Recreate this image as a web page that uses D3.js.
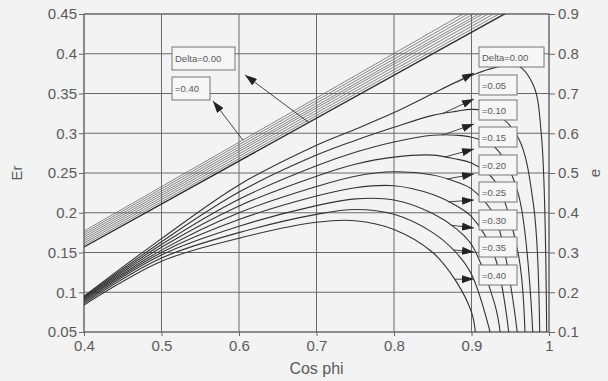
<!DOCTYPE html>
<html>
<head>
<meta charset="utf-8">
<script src="https://cdn.jsdelivr.net/npm/d3@7/dist/d3.min.js"></script>
<style>
  body { margin: 0; background: #f3f3f3; }
  svg text { font-family: "Liberation Sans", Arial, sans-serif; fill: #5a5a5a; }
</style>
</head>
<body>
<svg id="chart" width="608" height="381"></svg>
<script>
// ---- data ----
const deltaLabels = ['0.00', '0.05', '0.10', '0.15', '0.20', '0.25', '0.30', '0.35', '0.40'];

const xTicks = [0.4, 0.5, 0.6, 0.7, 0.8, 0.9, 1];
const erTicks = [0.05, 0.1, 0.15, 0.2, 0.25, 0.3, 0.35, 0.4, 0.45];
const eTicks = [0.1, 0.2, 0.3, 0.4, 0.5, 0.6, 0.7, 0.8, 0.9];

// Er lines (left axis): value at cos phi = 0.4 and at cos phi = 1.0 (clipped at 0.45)
const erCosPhi = [0.4, 1.0];
const erValues = [
  [0.157, 0.481],
  [0.1595, 0.485],
  [0.162, 0.489],
  [0.1645, 0.493],
  [0.167, 0.497],
  [0.1695, 0.500],
  [0.172, 0.504],
  [0.1745, 0.508],
  [0.177, 0.512]
];

// e curves (right axis): values on a shared cos phi grid, null once the curve has ended
const eCosPhi = [0.4, 0.5, 0.6, 0.7, 0.75, 0.8, 0.85, 0.88, 0.9, 0.93, 0.96, 0.98, 0.99];
const eValues = [
  [0.190, 0.335, 0.470, 0.570, 0.610, 0.652, 0.700, 0.728, 0.745, 0.765, 0.770, 0.720, 0.600],
  [0.188, 0.327, 0.452, 0.545, 0.582, 0.615, 0.645, 0.655, 0.660, 0.650, 0.590, 0.420, null],
  [0.186, 0.320, 0.434, 0.518, 0.552, 0.578, 0.595, 0.595, 0.590, 0.565, 0.450, null, null],
  [0.184, 0.313, 0.417, 0.492, 0.522, 0.540, 0.545, 0.535, 0.525, 0.480, 0.300, null, null],
  [0.182, 0.306, 0.400, 0.466, 0.492, 0.503, 0.495, 0.478, 0.460, 0.390, null, null, null],
  [0.179, 0.300, 0.383, 0.442, 0.463, 0.468, 0.446, 0.418, 0.390, 0.290, null, null, null],
  [0.176, 0.294, 0.366, 0.418, 0.435, 0.432, 0.398, 0.360, 0.320, 0.170, null, null, null],
  [0.172, 0.286, 0.350, 0.396, 0.408, 0.396, 0.350, 0.300, 0.245, null, null, null, null],
  [0.168, 0.278, 0.336, 0.376, 0.380, 0.358, 0.300, 0.228, 0.150, null, null, null, null]
];
// cos phi where each e curve reaches the bottom (e = 0.1)
const eEnd = [0.997, 0.988, 0.979, 0.969, 0.959, 0.948, 0.937, 0.924, 0.905];

// ---- layout ----
const svg = d3.select('#chart');
const margin = { top: 14, right: 59, bottom: 49, left: 84 };
const width = 608 - margin.left - margin.right;
const height = 381 - margin.top - margin.bottom;

const x = d3.scaleLinear().domain([0.4, 1]).range([0, width]);
const yL = d3.scaleLinear().domain([0.05, 0.45]).range([height, 0]);
const yR = d3.scaleLinear().domain([0.1, 0.9]).range([height, 0]);

const g = svg.append('g').attr('transform', `translate(${margin.left},${margin.top})`);

const defs = svg.append('defs');
defs.append('clipPath').attr('id', 'plot-clip')
  .append('rect').attr('width', width).attr('height', height);
defs.append('marker')
  .attr('id', 'arrow')
  .attr('viewBox', '0 0 12 8')
  .attr('refX', 12).attr('refY', 4)
  .attr('markerWidth', 12).attr('markerHeight', 8)
  .attr('markerUnits', 'userSpaceOnUse')
  .attr('orient', 'auto')
  .append('path').attr('d', 'M0,0 L12,4 L0,8 Z').attr('fill', '#222');

/* grid */
g.append('g').selectAll('line').data(xTicks).enter().append('line')
  .attr('x1', d => x(d)).attr('x2', d => x(d))
  .attr('y1', 0).attr('y2', height)
  .attr('stroke', '#6a6a6a').attr('stroke-width', 1);
g.append('g').selectAll('line').data(erTicks).enter().append('line')
  .attr('x1', 0).attr('x2', width)
  .attr('y1', d => yL(d)).attr('y2', d => yL(d))
  .attr('stroke', '#6a6a6a').attr('stroke-width', 1);

/* axes */
const axisStyle = sel => {
  sel.select('.domain').remove();
  sel.selectAll('line').attr('stroke', '#666');
  sel.selectAll('text').attr('font-size', 15).attr('fill', '#5a5a5a');
};
g.append('g').attr('transform', `translate(0,${height})`)
  .call(d3.axisBottom(x).tickValues(xTicks).tickSize(4).tickPadding(4).tickFormat(d3.format('')))
  .call(axisStyle);
g.append('g')
  .call(d3.axisLeft(yL).tickValues(erTicks).tickSize(5).tickPadding(2).tickFormat(d3.format('')))
  .call(axisStyle);
g.append('g').attr('transform', `translate(${width},0)`)
  .call(d3.axisRight(yR).tickValues(eTicks).tickSize(6).tickPadding(3).tickFormat(d3.format('')))
  .call(axisStyle);

g.append('rect').attr('width', width).attr('height', height)
  .attr('fill', 'none').attr('stroke', '#666').attr('stroke-width', 1);

/* axis titles */
svg.append('text').attr('x', margin.left + width / 2).attr('y', 374)
  .attr('text-anchor', 'middle').attr('font-size', 16).text('Cos phi');
svg.append('text').attr('transform', `translate(22,${margin.top + height / 2}) rotate(-90)`)
  .attr('text-anchor', 'middle').attr('font-size', 15).text('Er');
svg.append('text').attr('transform', `translate(600,${margin.top + height / 2}) rotate(-90)`)
  .attr('text-anchor', 'middle').attr('font-size', 15).text('e');

/* curves */
const plot = g.append('g').attr('clip-path', 'url(#plot-clip)');

const erPts = erValues.map(v => erCosPhi.map((c, i) => [c, v[i]]));
const erLine = d3.line().x(d => x(d[0])).y(d => yL(d[1]));
plot.append('g').selectAll('path')
  .data(erPts)
  .enter().append('path')
  .attr('d', erLine)
  .attr('fill', 'none')
  .attr('stroke', (d, i) => i === 0 ? '#2a2a2a' : '#6a6a6a')
  .attr('stroke-width', (d, i) => i === 0 ? 1.4 : 0.8);

const eSeries = eValues.map((row, k) => {
  const pts = [];
  row.forEach((v, i) => { if (v !== null) pts.push([eCosPhi[i], v]); });
  pts.push([eEnd[k], 0.1]);
  return pts;
});
const eLine = d3.line().x(d => x(d[0])).y(d => yR(d[1])).curve(d3.curveCatmullRom.alpha(0.5));
plot.append('g').selectAll('path')
  .data(eSeries)
  .enter().append('path')
  .attr('d', eLine)
  .attr('fill', 'none')
  .attr('stroke', '#333')
  .attr('stroke-width', 1.1);

/* value on a series at a given cos phi (linear between read points) */
function valueAt(pts, c) {
  for (let i = 0; i < pts.length - 1; i++) {
    if (c >= pts[i][0] && c <= pts[i + 1][0]) {
      const t = (c - pts[i][0]) / (pts[i + 1][0] - pts[i][0]);
      return pts[i][1] + t * (pts[i + 1][1] - pts[i][1]);
    }
  }
  return pts[pts.length - 1][1];
}

/* labels for Er lines */
const erBoxes = [
  { text: 'Delta=0.00', bx: 172, by: 47, bw: 63, bh: 23, tipX: 245, tipY: 75, c: 0.69, k: 0 },
  { text: '=0.40', bx: 172, by: 77, bw: 38, bh: 23, tipX: 213, tipY: 101, c: 0.605, k: 8 }
];
erBoxes.forEach(b => {
  svg.append('rect').attr('x', b.bx).attr('y', b.by).attr('width', b.bw).attr('height', b.bh)
    .attr('fill', '#f6f6f6').attr('stroke', '#777').attr('stroke-width', 1);
  svg.append('text').attr('x', b.bx + 3).attr('y', b.by + b.bh / 2 + 3.5)
    .attr('font-size', 9.5).attr('fill', '#333').text(b.text);
  svg.append('line')
    .attr('x1', margin.left + x(b.c)).attr('y1', margin.top + yL(valueAt(erPts[b.k], b.c)))
    .attr('x2', b.tipX).attr('y2', b.tipY)
    .attr('stroke', '#444').attr('stroke-width', 1).attr('marker-end', 'url(#arrow)');
});

/* labels for e curves: boxes stacked on the right, short arrows from the curves */
const eBoxTops = [47, 75, 100, 127, 155, 182, 210, 237, 265];
const eArrowTipY = [73, 99, 124, 149, 174, 200, 228, 252, 279];
const eArrowTail = [0.862, 0.862, 0.862, 0.865, 0.868, 0.870, 0.873, 0.876, 0.878];
deltaLabels.forEach((lab, k) => {
  const bx = 479, by = eBoxTops[k], bw = k === 0 ? 65 : 38, bh = 20;
  const cx = eArrowTail[k];
  svg.append('line')
    .attr('x1', margin.left + x(cx)).attr('y1', margin.top + yR(valueAt(eSeries[k], cx)))
    .attr('x2', bx - 5).attr('y2', eArrowTipY[k])
    .attr('stroke', '#444').attr('stroke-width', 1).attr('marker-end', 'url(#arrow)');
  svg.append('rect').attr('x', bx).attr('y', by).attr('width', bw).attr('height', bh)
    .attr('fill', '#f6f6f6').attr('stroke', '#777').attr('stroke-width', 1);
  svg.append('text').attr('x', bx + 3).attr('y', by + bh / 2 + 3.5)
    .attr('font-size', 9.5).attr('fill', '#333').text(k === 0 ? 'Delta=' + lab : '=' + lab);
});
</script>
</body>
</html>
